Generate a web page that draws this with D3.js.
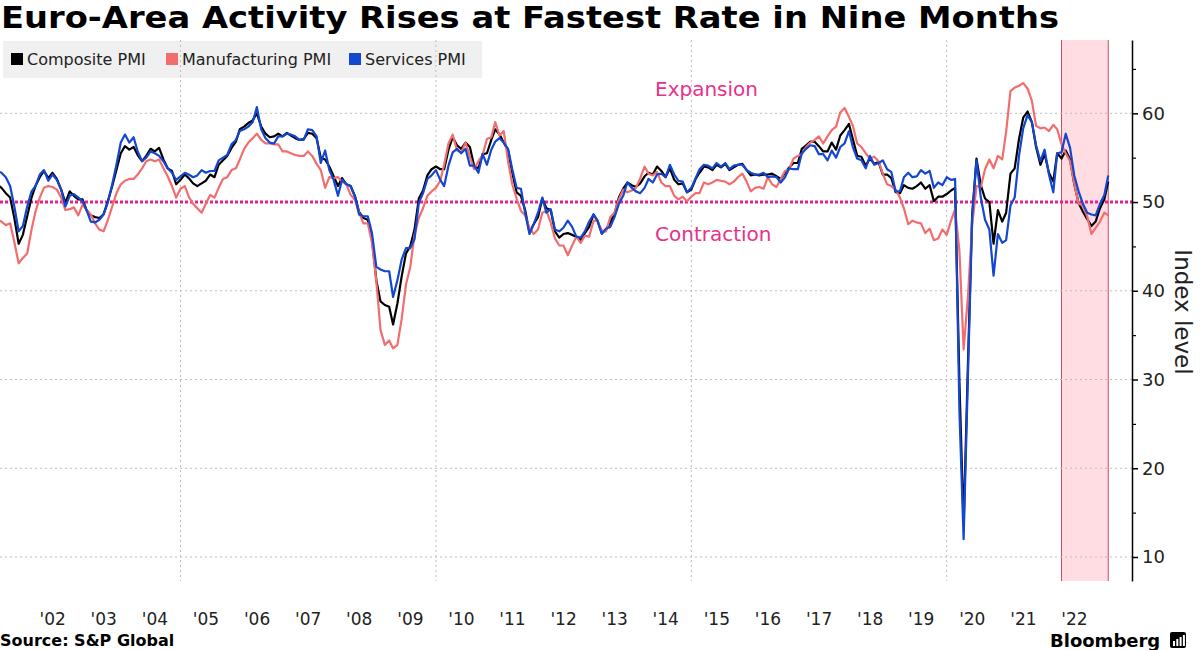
<!DOCTYPE html>
<html><head><meta charset="utf-8">
<script src="https://cdn.jsdelivr.net/npm/d3@7"></script>
<style>body{margin:0;background:#fff;} svg{display:block;font-family:"DejaVu Sans",Verdana,sans-serif;}</style>
</head><body><svg id="c" width="1200" height="650"></svg>
<script>
// ---- DATA (monthly, first value = May 2001, last = Feb 2023) ----
const startYear = 2001, startMonth = 5;
const seriesNames = ["Composite PMI", "Manufacturing PMI", "Services PMI"];
const seriesColors = ["#000000", "#f26d6d", "#1346d1"];
const composite = [
  52.0,51.6,51.0,50.5,48.2,45.3,46.3,48.4,
  50.5,51.8,52.8,53.5,52.7,53.3,52.6,51.4,49.9,51.2,50.7,50.3,
  50.3,49.1,48.5,48.3,48.2,48.6,50.1,51.8,53.6,55.5,56.3,55.9,
  56.2,55.3,54.6,55.2,56.0,55.7,56.1,54.8,53.8,53.5,52.0,52.5,
  53.1,52.7,52.1,51.8,52.1,52.4,53.1,52.8,54.2,54.7,55.2,56.1,
  56.8,58.2,58.5,58.9,59.2,60.0,58.5,57.7,57.3,57.4,57.7,57.4,
  57.8,57.5,57.2,57.0,57.1,57.8,57.7,57.2,55.0,54.8,54.0,52.9,
  51.8,52.7,52.0,51.8,50.7,48.9,48.2,48.0,45.8,41.2,38.8,38.4,
  38.2,36.2,38.6,41.6,44.2,45.0,46.9,50.4,51.3,53.0,53.7,54.0,
  53.7,53.7,55.9,57.3,56.4,56.0,56.7,56.2,54.1,53.8,55.4,55.5,
  57.0,58.2,57.6,56.7,55.8,53.3,51.1,50.7,49.1,46.6,47.5,48.3,
  50.4,49.3,49.1,46.7,46.0,46.4,46.5,46.3,46.1,45.7,46.5,47.2,
  48.6,47.9,46.5,46.9,47.7,48.7,50.5,51.5,52.2,51.9,51.7,52.1,
  52.9,53.3,53.1,54.0,53.5,52.8,53.8,52.5,52.0,52.1,51.1,51.4,
  52.6,53.3,54.0,53.9,53.6,54.2,53.9,54.3,53.6,53.9,54.2,54.3,
  53.6,53.0,53.1,53.0,53.1,53.1,53.2,52.9,52.6,53.3,53.9,54.4,
  54.4,56.0,56.4,56.8,56.8,56.3,55.7,55.7,56.7,55.9,57.5,58.1,
  58.8,57.1,55.2,55.1,54.1,54.9,54.3,54.5,53.1,53.1,52.7,51.1,
  51.0,51.9,51.6,51.5,51.8,52.2,51.5,51.9,50.1,50.6,50.6,50.9,
  51.3,51.6,29.7,13.6,31.9,48.5,54.9,51.9,50.4,50.0,45.3,49.1,
  47.8,48.8,53.2,53.8,57.1,59.5,60.2,59.0,56.2,54.2,55.4,53.3,
  52.3,55.5,54.9,55.8,54.8,52.0,49.9,48.9,48.1,47.3,47.8,49.3,
  50.3,52.3
];
const manufacturing = [
  48.0,47.8,47.4,47.6,45.5,43.1,43.7,44.2,
  46.9,48.9,50.5,51.6,51.8,51.7,51.4,50.5,49.1,49.2,49.4,48.5,
  49.7,49.1,48.6,47.6,46.9,46.7,48.0,49.5,51.0,52.0,52.4,52.6,
  52.6,53.1,53.8,54.6,54.8,54.6,54.8,53.8,52.9,51.8,50.5,51.5,
  51.8,50.6,49.8,49.3,48.8,49.8,50.8,50.5,51.6,52.6,52.8,53.6,
  53.8,54.8,56.0,56.7,57.2,57.7,57.0,56.6,56.6,56.5,56.5,55.7,
  55.7,55.5,55.3,55.2,55.2,55.7,55.2,54.3,53.6,51.6,52.8,52.7,
  52.8,52.3,52.0,50.8,50.3,48.8,47.6,47.6,45.4,41.1,35.6,33.9,
  34.4,33.5,33.9,36.8,40.7,42.6,46.3,48.2,49.3,50.7,51.2,51.6,
  52.4,54.2,56.6,57.6,55.8,55.6,56.7,55.1,53.7,54.6,55.3,57.1,
  57.3,59.0,57.5,58.0,54.6,52.0,50.4,49.0,48.5,47.1,46.4,46.9,
  48.8,49.0,47.7,45.9,45.1,45.1,44.0,45.1,46.1,45.4,46.2,46.1,
  47.9,47.9,46.8,46.7,48.3,48.8,50.3,51.4,51.1,51.3,51.6,52.7,
  54.0,53.2,53.0,53.4,52.2,51.8,51.8,50.7,50.3,50.6,50.1,50.6,
  51.0,51.0,52.2,52.0,52.2,52.5,52.4,52.3,52.0,52.3,52.8,53.2,
  52.3,51.2,51.6,51.7,51.5,52.8,52.0,51.7,52.6,53.5,53.7,54.9,
  55.2,55.4,56.2,56.7,57.0,57.4,56.6,57.4,58.1,58.5,60.1,60.6,
  59.6,58.6,56.6,56.2,55.5,54.9,55.1,54.6,53.2,52.0,51.8,51.4,
  50.5,49.3,47.5,47.9,47.7,47.6,46.5,47.0,45.7,45.9,46.9,46.3,
  47.9,49.2,44.5,33.4,39.4,47.4,51.8,51.7,53.7,54.8,53.8,55.2,
  54.8,57.9,62.5,62.9,63.1,63.4,62.8,61.4,58.6,58.3,58.4,58.0,
  58.7,58.2,56.5,55.5,54.6,52.1,49.8,49.6,48.4,46.4,47.1,47.8,
  48.8,48.5
];
const services = [
  53.5,53.3,52.8,51.8,49.5,46.7,47.3,49.5,
  51.2,51.8,53.1,53.6,52.4,53.1,52.5,51.4,49.5,50.7,50.9,50.5,
  50.1,49.1,47.8,47.7,48.0,48.6,50.0,52.0,54.2,56.7,57.6,56.7,
  57.3,55.7,54.6,55.0,55.7,55.5,55.2,54.6,53.8,53.3,52.5,52.9,
  53.3,53.1,52.8,53.0,53.6,53.3,53.5,53.5,54.7,55.0,55.3,56.5,
  57.0,58.0,58.2,58.5,59.0,60.7,58.2,57.2,56.7,56.6,57.4,57.4,
  57.7,57.6,57.4,57.0,57.0,58.2,58.1,57.4,54.4,55.8,53.6,52.5,
  50.7,52.5,52.0,51.8,50.6,48.6,48.4,48.4,46.5,42.7,42.4,42.2,
  42.2,39.3,41.2,43.5,44.8,44.8,45.8,49.9,51.0,52.6,53.0,53.6,
  52.5,51.8,54.1,55.6,56.0,55.5,56.0,54.1,54.1,53.3,55.4,54.2,
  55.9,56.8,57.2,56.7,56.0,53.7,51.6,51.5,48.8,46.4,47.5,48.8,
  50.5,48.8,49.2,46.9,46.7,47.1,47.9,47.2,46.1,46.0,46.7,47.8,
  48.6,47.9,46.4,47.0,47.2,48.3,49.8,50.7,52.2,51.6,51.2,51.0,
  51.6,52.6,52.2,53.1,53.2,52.8,54.2,53.1,52.4,52.3,51.1,51.6,
  52.7,53.7,54.2,54.1,53.8,54.4,54.0,54.4,53.7,54.1,54.2,54.2,
  53.6,53.3,53.1,53.1,53.3,52.8,52.9,52.8,52.2,52.8,53.8,53.7,
  53.7,55.5,56.0,56.4,56.3,55.4,55.4,54.7,55.8,55.0,56.2,56.6,
  58.0,56.2,54.9,54.7,53.8,55.2,54.2,54.4,54.7,53.7,53.4,51.2,
  51.2,52.8,53.3,52.8,52.9,53.6,53.2,53.5,51.6,52.2,51.9,52.8,
  52.5,52.6,26.4,12.0,30.5,48.3,54.7,50.5,48.0,46.9,41.7,46.4,
  45.4,45.7,49.6,50.5,55.2,58.3,59.8,59.0,56.4,54.6,55.9,53.1,
  51.1,55.5,55.6,57.7,56.1,53.0,51.2,49.8,48.8,48.6,48.5,49.8,
  50.8,53.0
];
const yearLabels = ["'02","'03","'04","'05","'06","'07","'08","'09","'10","'11","'12","'13","'14","'15","'16","'17","'18","'19","'20","'21","'22"];
const labelYears = d3.range(2002, 2023);
const yTicks = [10, 20, 30, 40, 50, 60];
const yMinorTicks = [15, 25, 35, 45, 55, 65];
const gridYears = [2005, 2010, 2015, 2020];
const shadeStart = [2022, 3];   // Mar 2022 data point
const shadeEnd = [2023, 2];     // Feb 2023 data point

// ---- CHART ----
const svg = d3.select("#c");
const plotTop = 40, plotBottom = 581, plotLeft = 0, axisX = 1132;
const x = d3.scaleTime().domain([new Date(2002,0,1), new Date(2020,0,1)]).range([27.2, 946.7]);
const y = d3.scaleLinear().domain([10, 60]).range([557, 113.3]);
const monthEnd = (yr, m) => new Date(yr, m, 1); // month-end point = first day of following month
const dates = composite.map((_, i) => monthEnd(startYear, startMonth + i));

// title
svg.append("text").attr("x", 1).attr("y", 28)
  .attr("font-size", 30).attr("font-weight", "bold").attr("fill", "#000")
  .attr("textLength", 1058).attr("lengthAdjust", "spacingAndGlyphs")
  .text("Euro-Area Activity Rises at Fastest Rate in Nine Months");

// legend background
svg.append("rect").attr("x", 3).attr("y", 41).attr("width", 479).attr("height", 37).attr("fill", "#f0f0f0");

// shaded period
const xs0 = x(monthEnd(...shadeStart)), xs1 = x(monthEnd(...shadeEnd));
svg.append("rect").attr("x", xs0).attr("y", plotTop).attr("width", xs1 - xs0).attr("height", plotBottom - plotTop)
  .attr("fill", "#ffdde3");
[xs0, xs1].forEach(v => svg.append("line").attr("x1", v).attr("x2", v).attr("y1", plotTop).attr("y2", plotBottom)
  .attr("stroke", "#c94a62").attr("stroke-width", 1));

// gridlines
const grid = svg.append("g").attr("stroke", "#bdbdbd").attr("stroke-width", 1).attr("stroke-dasharray", "2,3");
yTicks.filter(v => v !== 50).forEach(v => grid.append("line").attr("x1", plotLeft).attr("x2", axisX).attr("y1", y(v)).attr("y2", y(v)));
gridYears.forEach(yr => { const gx = x(new Date(yr, 0, 1)); grid.append("line").attr("x1", gx).attr("x2", gx).attr("y1", plotTop).attr("y2", plotBottom); });

// 50 line
svg.append("line").attr("x1", plotLeft).attr("x2", axisX).attr("y1", y(50)).attr("y2", y(50))
  .attr("stroke", "#e2238c").attr("stroke-width", 3).attr("stroke-dasharray", "3,2");

// expansion / contraction labels
svg.append("text").attr("x", 655).attr("y", 96).attr("font-size", 20).attr("fill", "#e8318a").text("Expansion");
svg.append("text").attr("x", 655).attr("y", 241).attr("font-size", 20).attr("fill", "#e8318a").text("Contraction");

// lines
svg.append("clipPath").attr("id", "clip").append("rect").attr("x", plotLeft).attr("y", plotTop).attr("width", axisX - plotLeft).attr("height", plotBottom - plotTop);
const line = d3.line().x((d, i) => x(dates[i])).y(d => y(d));
const lg = svg.append("g").attr("clip-path", "url(#clip)");
[composite, manufacturing, services].forEach((s, k) => {
  lg.append("path").datum(s).attr("d", line).attr("fill", "none")
    .attr("stroke", seriesColors[k]).attr("stroke-width", 2.2).attr("stroke-linejoin", "round");
});

// legend items
const legX = [11, 166, 349], legTextX = [27, 182, 365];
seriesNames.forEach((n, k) => {
  svg.append("rect").attr("x", legX[k]).attr("y", 53).attr("width", 12).attr("height", 12).attr("fill", seriesColors[k]);
  svg.append("text").attr("x", legTextX[k]).attr("y", 65).attr("font-size", 16).attr("fill", "#222").text(n);
});

// right axis
const yAxisScale = d3.scaleLinear().domain([y.invert(plotBottom), y.invert(plotTop)]).range([plotBottom, plotTop]);
const ax = svg.append("g").attr("transform", `translate(${axisX},0)`)
  .call(d3.axisRight(yAxisScale).tickValues(yTicks).tickSize(6).tickSizeOuter(0).tickPadding(4));
ax.select(".domain").attr("stroke", "#000").attr("stroke-width", 1.5);
ax.selectAll(".tick line").attr("stroke", "#000").attr("stroke-width", 1.5);
ax.selectAll(".tick text").attr("font-size", 18).attr("fill", "#222").attr("font-family", "DejaVu Sans");
const axm = svg.append("g").attr("transform", `translate(${axisX},0)`)
  .call(d3.axisRight(yAxisScale).tickValues(yMinorTicks).tickSize(4).tickSizeOuter(0).tickFormat(""));
axm.select(".domain").remove();
axm.selectAll(".tick line").attr("stroke", "#000").attr("stroke-width", 1.2);

svg.append("text").attr("transform", "translate(1175,312) rotate(90)").attr("text-anchor", "middle")
  .attr("font-size", 23).attr("fill", "#222").text("Index level");

// x labels
labelYears.forEach((yr, i) => {
  const cx = (x(new Date(yr, 0, 1)) + x(new Date(yr + 1, 0, 1))) / 2;
  svg.append("text").attr("x", cx).attr("y", 625).attr("text-anchor", "middle")
    .attr("font-size", 17).attr("fill", "#222").text(yearLabels[i]);
});

// footer
svg.append("text").attr("x", 0).attr("y", 646).attr("font-size", 16).attr("font-weight", "bold").attr("fill", "#000").text("Source: S&P Global");
svg.append("text").attr("x", 1050).attr("y", 647).attr("font-size", 18).attr("font-weight", "bold").attr("fill", "#000").text("Bloomberg");
svg.append("rect").attr("x", 1170).attr("y", 632).attr("width", 16).attr("height", 16).attr("rx", 2).attr("fill", "#000");
[0, 1, 2, 3].forEach(i => svg.append("rect").attr("x", 1173 + i * 3.3).attr("y", 641 - i * 2).attr("width", 2).attr("height", 5 + i * 2).attr("fill", "#fff"));
</script></body></html>
